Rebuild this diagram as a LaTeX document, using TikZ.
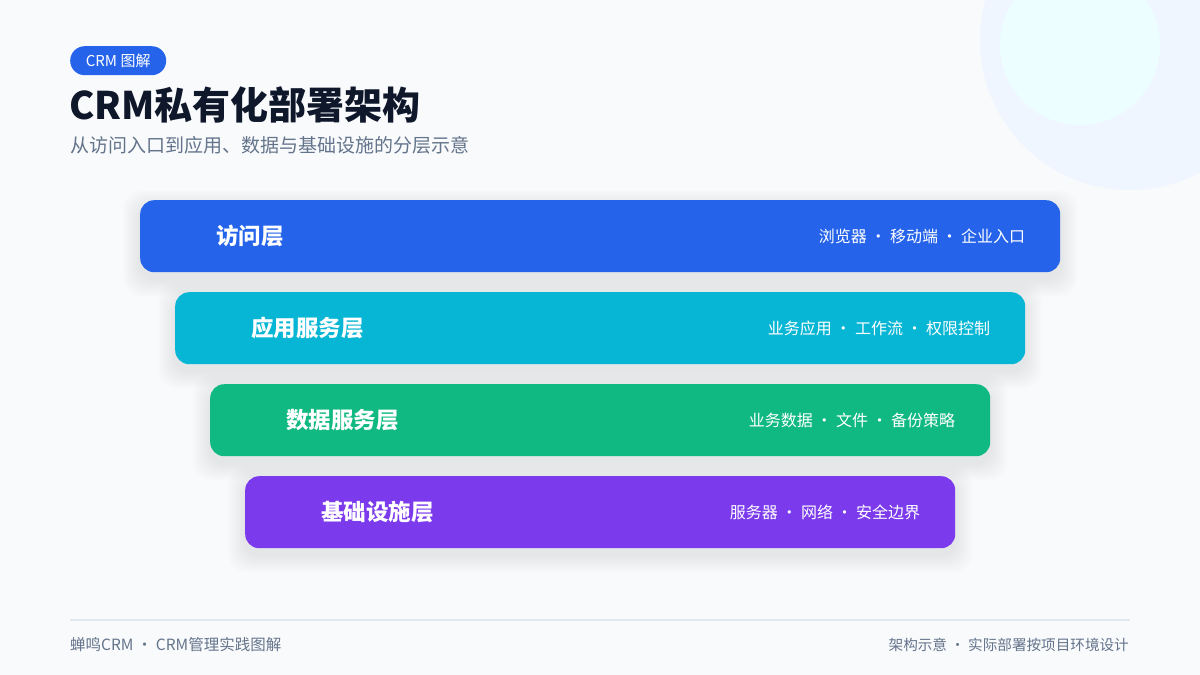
\documentclass[tikz,border=0pt]{standalone}
\usepackage{fontspec}
\setmainfont{Noto Sans CJK SC}
\definecolor{bgc}{HTML}{F8FAFC}
\definecolor{circA}{HTML}{EFF6FF}
\definecolor{circB}{HTML}{ECFEFF}
\definecolor{cblue}{HTML}{2563EB}
\definecolor{ccyan}{HTML}{06B6D4}
\definecolor{cgreen}{HTML}{10B981}
\definecolor{cpurple}{HTML}{7C3AED}
\definecolor{ctitle}{HTML}{0F172A}
\definecolor{csub}{HTML}{64748B}
\definecolor{cline}{HTML}{E2E8F0}
\definecolor{cshadow}{HTML}{334155}
\pgfdeclarelayer{bglayer}
\pgfdeclarelayer{shadowlayer}
\pgfsetlayers{bglayer,shadowlayer,main}
\tikzset{
  bar/.style={rectangle, rounded corners=14pt, draw=none, minimum height=72pt, inner sep=0pt, anchor=north west},
  lbl/.style={text=white, font=\fontsize{22.5}{26}\selectfont\bfseries, inner sep=0pt, anchor=west},
  desc/.style={text=white, font=\fontsize{16}{20}\selectfont, inner sep=0pt, anchor=east},
  foot/.style={text=csub, inner sep=0pt},
  shadowlayer/.style={fill=cshadow, opacity=0.006, rounded corners=18pt},
}
\newcommand\barshadow[1]{%
  \foreach \i in {1,...,10}{%
    \fill[shadowlayer] ([shift={(-\i*1.7pt,-7pt+\i*1.7pt)}]#1.north west) rectangle ([shift={(\i*1.7pt,-7pt-\i*1.7pt)}]#1.south east);
  }}
\begin{document}
\begin{tikzpicture}[x=1pt,y=-1pt]
\useasboundingbox (0,0) rectangle (1200,675);
\begin{pgfonlayer}{bglayer}
\fill[bgc] (0,0) rectangle (1200,675);
\begin{scope}
\clip (0,0) rectangle (1200,675);
\fill[circA] (1130,40) circle (150pt);
\fill[circB] (1080,45) circle (80pt);
\end{scope}
\end{pgfonlayer}
% tag
\node[rectangle, rounded corners=14.5pt, fill=cblue, minimum width=96pt, minimum height=29pt, inner sep=0pt, anchor=north west] (tag) at (70,46) {};
\node[text=white, font=\fontsize{15}{17}\selectfont, inner sep=0pt] (tagt) at (tag.center) {CRM 图解};
% title
\node[text=ctitle, font=\fontsize{38}{42}\selectfont\bfseries, inner sep=0pt, anchor=west] (title) at (69,105) {CRM私有化部署架构};
\node[text=csub, font=\fontsize{19}{23}\selectfont, inner sep=0pt, anchor=west] (sub) at (70,145) {从访问入口到应用、数据与基础设施的分层示意};
% bars
\node[bar, fill=cblue, minimum width=920pt] (b1) at (140,200) {};
\node[bar, fill=ccyan, minimum width=850pt] (b2) at (175,292) {};
\node[bar, fill=cgreen, minimum width=780pt] (b3) at (210,384) {};
\node[bar, fill=cpurple, minimum width=710pt] (b4) at (245,476) {};
\begin{pgfonlayer}{shadowlayer}
\barshadow{b1}\barshadow{b2}\barshadow{b3}\barshadow{b4}
\end{pgfonlayer}
\node[lbl] (t1) at ([xshift=76pt]b1.west) {访问层};
\node[lbl] (t2) at ([xshift=76pt]b2.west) {应用服务层};
\node[lbl] (t3) at ([xshift=76pt]b3.west) {数据服务层};
\node[lbl] (t4) at ([xshift=76pt]b4.west) {基础设施层};
\node[desc] (d1) at ([xshift=-35pt]b1.east) {浏览器 · 移动端 · 企业入口};
\node[desc] (d2) at ([xshift=-35pt]b2.east) {业务应用 · 工作流 · 权限控制};
\node[desc] (d3) at ([xshift=-35pt]b3.east) {业务数据 · 文件 · 备份策略};
\node[desc] (d4) at ([xshift=-35pt]b4.east) {服务器 · 网络 · 安全边界};
% footer
\coordinate (fl) at (70,620);
\coordinate (fr) at (1130,620);
\draw[cline, line width=1.5pt] (fl) -- (fr);
\node[foot, font=\fontsize{15.5}{18}\selectfont, anchor=west] (f1) at (70,645) {蝉鸣CRM · CRM管理实践图解};
\node[foot, font=\fontsize{14.6}{18}\selectfont, anchor=east] (f2) at (1129,645) {架构示意 · 实际部署按项目环境设计};
\end{tikzpicture}
\end{document}
